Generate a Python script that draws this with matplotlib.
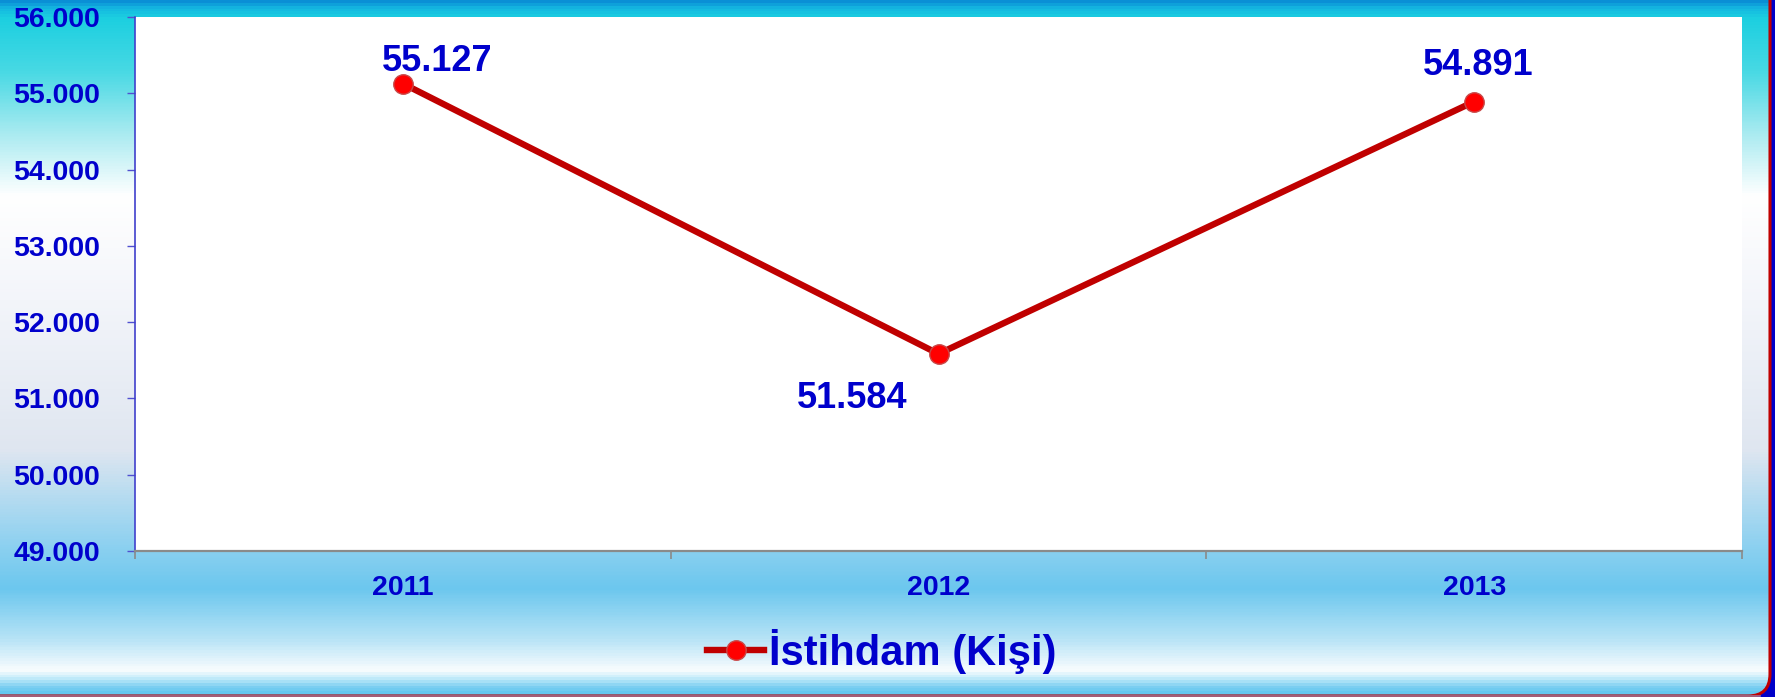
#!/usr/bin/env python3
"""
Istihdam (Kisi) line chart, 2011-2013
"""

import numpy as np
import matplotlib
matplotlib.use('Agg')
import matplotlib.pyplot as plt
from matplotlib.colors import LinearSegmentedColormap
from matplotlib.patches import FancyBboxPatch

# Data
years = ['2011', '2012', '2013']
employment = [55127, 51584, 54891]
value_labels = ['55.127', '51.584', '54.891']
y_ticks = [49000, 50000, 51000, 52000, 53000, 54000, 55000, 56000]
y_tick_labels = ['49.000', '50.000', '51.000', '52.000', '53.000', '54.000', '55.000', '56.000']
series_name = 'İstihdam (Kişi)'

W, H = 1775, 697
TEXT_BLUE = '#0000cc'
plt.rcParams['font.family'] = ['Liberation Sans', 'DejaVu Sans']
plt.rcParams['font.weight'] = 'bold'

fig = plt.figure(figsize=(W / 100, H / 100), dpi=100)
fig.patch.set_facecolor('#0000c8')

# Background gradient (slide look)
bg = fig.add_axes([0, 0, 1, 1])
bg.set_xlim(0, W)
bg.set_ylim(H, 0)
bg.axis('off')
stops = [
    (0, '#0a8fd6'), (6, '#14b6e0'), (16, '#1ccfe0'), (70, '#48d9e4'),
    (130, '#a6eaf0'), (195, '#ffffff'), (300, '#f3f5fa'), (450, '#dfe6f0'),
    (495, '#b8dcf0'), (550, '#8ad0f0'), (590, '#6cc7ee'), (640, '#b6e3f6'),
    (672, '#f8fcfe'), (680, '#c4ecfa'), (688, '#7fd0f2'), (697, '#5bc4ee'),
]
cmap = LinearSegmentedColormap.from_list('slide', [(p / H, c) for p, c in stops])
grad = np.linspace(0, 1, 700).reshape(-1, 1)
frame = FancyBboxPatch((-60, -60), 1830, 756, boxstyle='round,pad=0,rounding_size=22',
                       facecolor='none', edgecolor='#c00000', linewidth=2.2)
bg.add_patch(frame)
img = bg.imshow(grad, cmap=cmap, aspect='auto', extent=[0, W, H, 0], zorder=0)
img.set_clip_path(frame)
bg.plot([0, 1760], [696, 696], color='#a07090', linewidth=1.2)

# Plot area
ax = fig.add_axes([135 / W, 1 - 551 / H, (1742 - 135) / W, (551 - 17) / H])
ax.set_facecolor('white')
x = np.arange(len(years))
ax.plot(x, employment, color='#c00000', linewidth=4.6, marker='o', markersize=14,
        markerfacecolor='#ff0000', markeredgecolor='#c84848', markeredgewidth=1,
        label=series_name, zorder=3, clip_on=False)

offsets = [(25, 9), (-62, -39), (3, 19.5)]
for xi, yi, txt, off in zip(x, employment, value_labels, offsets):
    ax.annotate(txt, (xi, yi), xytext=off, textcoords='offset points',
                ha='center', va='baseline', fontsize=26, fontweight='bold',
                color=TEXT_BLUE)

ax.set_xlim(-0.5, 2.5)
ax.set_ylim(49000, 56000)
ax.set_yticks(y_ticks)
ax.set_yticklabels(y_tick_labels)
ax.set_xticks(x)
ax.set_xticklabels(years)
ax.set_xticks([-0.5, 0.5, 1.5, 2.5], minor=True)

ax.tick_params(axis='y', direction='out', length=6, width=1, color='#5050d0',
               pad=19, labelsize=20.5, labelcolor=TEXT_BLUE)
ax.tick_params(axis='x', which='major', length=0, pad=17, labelsize=20.5,
               labelcolor=TEXT_BLUE)
ax.tick_params(axis='x', which='minor', direction='out', length=6, width=1.2,
               color='#8a8a8a')
for lbl in ax.get_xticklabels() + ax.get_yticklabels():
    lbl.set_fontweight('bold')

ax.spines['top'].set_visible(False)
ax.spines['right'].set_visible(False)
ax.spines['left'].set_color('#4040cc')
ax.spines['left'].set_linewidth(1.2)
ax.spines['bottom'].set_color('#8a8a8a')
ax.spines['bottom'].set_linewidth(1.6)

fig.legend(loc='center', bbox_to_anchor=(0.497, 0.066), frameon=False,
           handlelength=1.37, handletextpad=0.12,
           prop={'weight': 'bold', 'size': 30},
           labelcolor=TEXT_BLUE)

plt.savefig('out.png', dpi=100)
plt.close()
